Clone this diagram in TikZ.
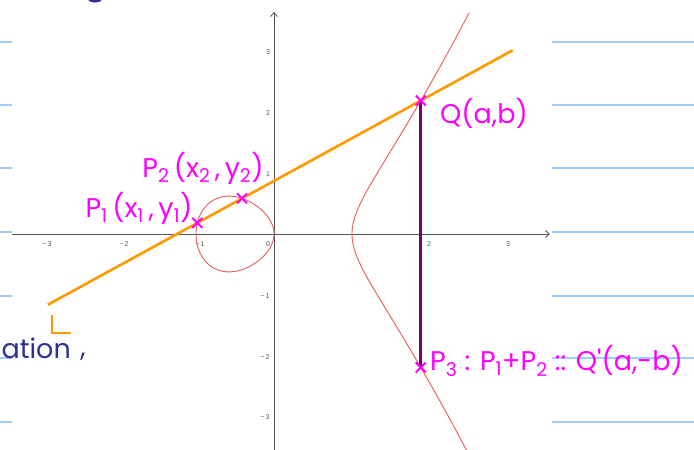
\documentclass[tikz,border=0pt]{standalone}
\usepackage{fontspec}
\setmainfont{Liberation Sans}
\newfontfamily\hand{Poppins}
\usetikzlibrary{arrows.meta}
\definecolor{mag}{RGB}{255,0,255}
\definecolor{orng}{RGB}{255,153,0}
\definecolor{purp}{RGB}{120,0,125}
\definecolor{curvered}{RGB}{225,95,90}
\definecolor{axisgray}{RGB}{85,85,85}
\definecolor{ruleblue}{RGB}{160,205,250}
\definecolor{navy}{RGB}{45,50,145}
\tikzset{
  ruled/.style={ruleblue, line width=1.6pt},
  axisline/.style={axisgray, line width=0.8pt, -{Straight Barb[length=4pt,width=7pt]}},
  ticklab/.style={text=axisgray, font=\fontsize{7}{8}\selectfont, inner sep=0pt},
  cubic/.style={curvered, line width=0.9pt},
  secant/.style={orng, line width=2.6pt},
  vert/.style={purp, line width=2.8pt},
  marker/.style={mag, line width=2pt},
  handlab/.style={text=mag, inner sep=0pt, font=\hand\fontsize{27}{29}\selectfont},
  navytext/.style={text=navy, inner sep=0pt, font=\hand\fontsize{27}{29}\selectfont},
}
\newcommand{\sub}[1]{\textsubscript{#1}}
\begin{document}
\begin{tikzpicture}[x=1pt,y=-1pt]
\useasboundingbox (0,0) rectangle (694,450);
\clip (0,0) rectangle (694,450);
\fill[white] (0,0) rectangle (694,450);
% ruled notebook lines
\foreach \yy in {42,105,168,232,296,358,422}{
  \draw[ruled] (0,\yy) -- (12,\yy);
  \draw[ruled] (552,\yy) -- (694,\yy);
}
% blob of previous handwriting
\fill[navy] (95,-1) ellipse (7pt and 3.5pt);
% axes
\coordinate (xs) at (12,234);
\coordinate (xe) at (550,234);
\coordinate (ys) at (274,452);
\coordinate (ye) at (274,12);
\draw[axisline] (xs) -- (xe);
\draw[axisline] (ys) -- (ye);
% tick labels
\node[ticklab] (tx1) at (47,244) {\textminus\,3};
\node[ticklab] (tx2) at (124,244) {\textminus\,2};
\node[ticklab] (tx3) at (200,244) {\textminus\,1};
\node[ticklab] (tx0) at (268,244) {0};
\node[ticklab] (tx4) at (429,244) {2};
\node[ticklab] (tx5) at (508,244) {3};
\node[ticklab] (ty3) at (268,52) {3};
\node[ticklab] (ty2) at (268,113) {2};
\node[ticklab] (ty1) at (268,174) {1};
\node[ticklab] (tym1) at (265,296) {\textminus\,1};
\node[ticklab] (tym2) at (265,357) {\textminus\,2};
\node[ticklab] (tym3) at (265,417) {\textminus\,3};
% math scope
\begin{scope}[shift={(274pt,-234pt)}, x=78pt, y=61pt]
  % oval of y^2 = x^3 - x
  \draw[cubic] plot[domain=0:360, samples=181, smooth]
    ({-0.5-0.5*cos(\x)}, {(sin(\x)>=0 ? 1 : -1)*sqrt(abs((-0.5-0.5*cos(\x))^3-(-0.5-0.5*cos(\x))))});
  % right branch
  \draw[cubic] plot[domain=-1.24:1.227, samples=161, smooth]
    ({1+\x*\x}, {(\x>=0 ? 1 : -1)*sqrt(abs((1+\x*\x)^3-(1+\x*\x)))});
  \coordinate (P1) at (-0.983,0.182);
  \coordinate (P2) at (-0.409,0.584);
  \coordinate (Q) at (1.882,2.1875);
  \coordinate (P3) at (1.882,-2.1875);
  \coordinate (La) at (-2.9,-1.16);
  \coordinate (Lb) at (3.06,3.012);
\end{scope}
% secant line
\draw[secant] (La) -- (Lb);
% vertical reflection
\draw[vert] (Q) -- (P3);
% markers
\foreach \p in {P1,P2,Q,P3}{
  \draw[marker] ([shift={(-5,-5)}]\p) -- ([shift={(5,5)}]\p);
  \draw[marker] ([shift={(-5,5)}]\p) -- ([shift={(5,-5)}]\p);
}
% labels
\node[handlab, anchor=center] (lP1) at (139,208) {P\sub{1}\,(x\sub{1}\,,\,y\sub{1})};
\node[handlab, anchor=center] (lP2) at (203,168) {P\sub{2}\,(x\sub{2}\,,\,y\sub{2})};
\node[handlab, anchor=center] (lQ) at (484,113) {Q(a,b)};
\node[handlab, anchor=west] (lP3) at (430,361) {P\sub{3} : P\sub{1}+P\sub{2} :: Q'(a,-b)};
% partial handwriting bottom-left
\draw[orng, line width=2.4pt] (52,315) -- (52,333) -- (71,333);
\node[navytext, anchor=base east] (ation) at (71,358) {ation};
\node[navytext, anchor=base] (comma) at (83,356) {,};
\end{tikzpicture}
\end{document}
